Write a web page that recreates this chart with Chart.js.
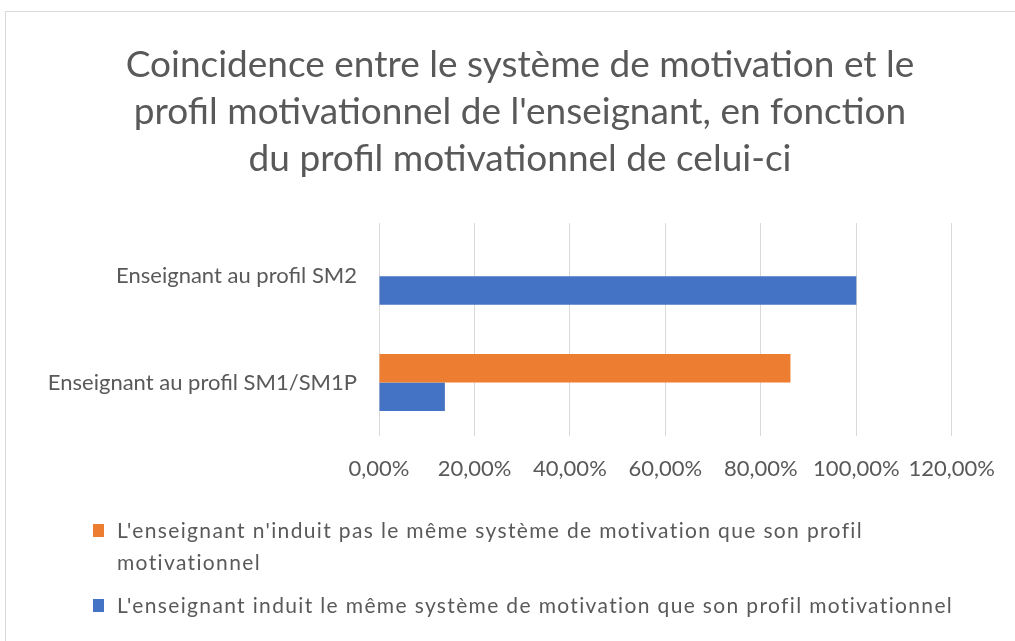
<!DOCTYPE html>
<html>
<head>
<meta charset="utf-8">
<script src="https://cdn.jsdelivr.net/npm/chart.js@4.4.0/dist/chart.umd.min.js"></script>
<style>
  body { margin: 0; background: #fff; }
  #wrap { position: relative; width: 1015px; height: 641px; overflow: hidden; }
  #frame { position: absolute; left: 5px; top: 11px; width: 1040px; height: 660px; border: 1px solid #d9d9d9; }
  #myChart { position: absolute; left: 0; top: 0; }
  #legend { position: absolute; left: 93px; top: 514px; width: 880px; font-family: Lato, sans-serif; font-size: 21px; letter-spacing: 1.35px; color: #595959; }
  .item { position: relative; padding-left: 24px; line-height: 32px; margin-bottom: 11px; }
  .box { position: absolute; left: 0; top: 10px; width: 11px; height: 13px; }
</style>
</head>
<body>
<div id="wrap">
  <div id="frame"></div>
  <canvas id="myChart" width="1015" height="641"></canvas>
  <div id="legend"></div>
</div>
<script>
// categories, bottom to top as in the original
const categories = ["Enseignant au profil SM1/SM1P", "Enseignant au profil SM2"];
const seriesNames = [
    "L'enseignant n'induit pas le même système de motivation que son profil motivationnel",
    "L'enseignant induit le même système de motivation que son profil motivationnel"
];
const notSameValues = [86.2, 0];
const sameValues = [13.8, 100];
const tickValues = [0, 20, 40, 60, 80, 100, 120];
const colors = ["#ed7d31", "#4472c4"];

const titleLines = [
    "Coincidence entre le système de motivation et le",
    "profil motivationnel de l'enseignant, en fonction",
    "du profil motivationnel de celui-ci"
];

var ctx = document.getElementById("myChart");
var myChart = new Chart(ctx, {
    type: 'bar',
    data: {
        labels: categories,
        datasets: [
            { label: seriesNames[0], data: notSameValues, backgroundColor: colors[0] },
            { label: seriesNames[1], data: sameValues, backgroundColor: colors[1] }
        ]
    },
    options: {
        indexAxis: 'y',
        responsive: false,
        animation: false,
        categoryPercentage: 0.535,
        barPercentage: 1,
        layout: { padding: { left: 47, right: 22, top: 20, bottom: 139 } },
        plugins: {
            legend: { display: false },
            tooltip: { enabled: false },
            title: {
                display: true,
                text: titleLines,
                color: '#595959',
                font: { family: 'Lato', size: 37, weight: 'normal', lineHeight: 1.28 },
                padding: { top: 21, bottom: 40 }
            }
        },
        scales: {
            x: {
                min: 0,
                max: 120,
                afterBuildTicks: function(scale) {
                    scale.ticks = tickValues.map(v => ({ value: v }));
                },
                ticks: {
                    color: '#595959',
                    font: { family: 'Lato', size: 22 },
                    padding: 20,
                    callback: v => v.toFixed(2).replace('.', ',') + '%'
                },
                grid: { color: '#d9d9d9', drawTicks: false },
                border: { display: false }
            },
            y: {
                reverse: true,
                afterFit: function(scale) { scale.width = 332; },
                ticks: {
                    color: '#595959',
                    font: { family: 'Lato', size: 22 },
                    padding: 22
                },
                grid: { display: false, drawTicks: false },
                border: { display: true, color: '#d9d9d9' }
            }
        }
    }
});

// legend drawn as html so the long label can wrap like the original
document.getElementById('legend').innerHTML = seriesNames.map((name, i) =>
    '<div class="item"><span class="box" style="background:' + colors[i] + '"></span>' + name + '</div>'
).join('');
</script>
</body>
</html>
